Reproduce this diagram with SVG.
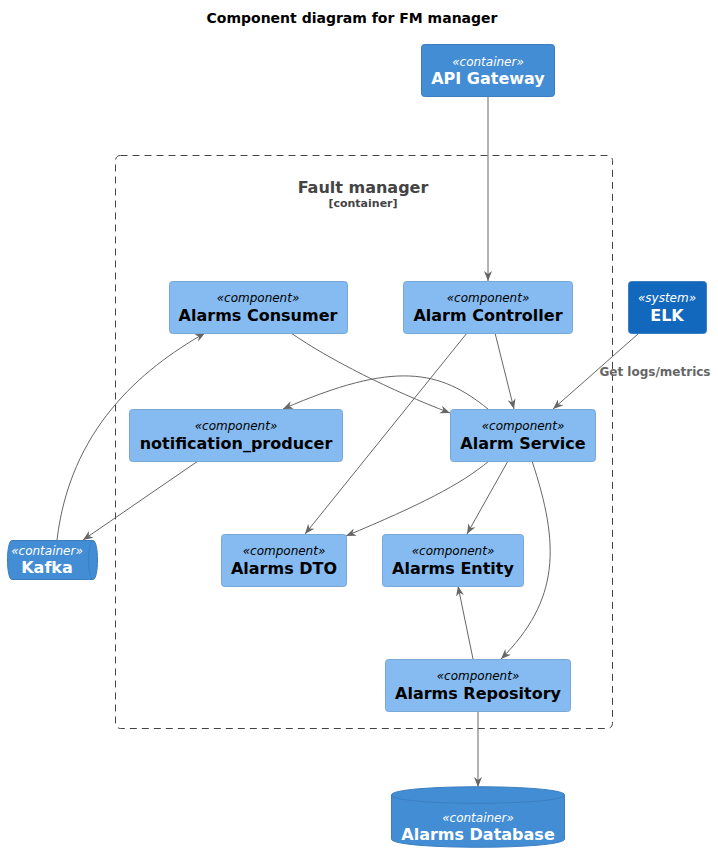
<svg xmlns="http://www.w3.org/2000/svg" width="718" height="863" viewBox="0 0 718 863">
<defs>
<marker id="ah" viewBox="0 0 10 10" refX="10" refY="5" markerWidth="10" markerHeight="10" markerUnits="userSpaceOnUse" orient="auto">
<path d="M0,1 L10,5 L0,9 L3,5 Z" fill="#666666"/>
</marker>
<style>
text{font-family:"DejaVu Sans","Liberation Sans",sans-serif;text-anchor:middle}
.st{font-size:12px;font-style:italic}
.nm{font-size:16px;font-weight:bold}
.w{fill:#FFFFFF}
.k{fill:#000000}
.comp{fill:#85BBF0;stroke:#78A8D8;stroke-width:1}
.cont{fill:#438DD5;stroke:#3C7FC0;stroke-width:1}
.sys{fill:#1168BD;stroke:#3C7FC0;stroke-width:1}
.e{fill:none;stroke:#666666;stroke-width:1;marker-end:url(#ah)}
</style>
</defs>
<rect width="718" height="863" fill="#FFFFFF"/>
<text x="352" y="23" style="font-size:14px;font-weight:bold" fill="#000">Component diagram for FM manager</text>

<g id="fault-manager">
<rect x="115.5" y="155.5" width="497" height="573" rx="5" fill="none" stroke="#444444" stroke-dasharray="7,5"/>
<text x="363" y="193" class="nm" fill="#444444">Fault manager</text>
<text x="363" y="207" style="font-size:11px;font-weight:bold" fill="#444444">[container]</text>
</g>

<g id="connectors">
<path class="e" d="M488,97 L488,281"/>
<path class="e" d="M495,333 L514,409"/>
<path class="e" d="M467,333 L305,534"/>
<path class="e" d="M291,333 C330,360 390,390 450,413"/>
<path class="e" d="M488,409 C440,370 395,360 283,409"/>
<path class="e" d="M638,334 L553,409"/>
<path class="e" d="M57,540 C70,430 140,370 205,333"/>
<path class="e" d="M198,461 L83,540"/>
<path class="e" d="M489,461 C460,485 420,505 346,536"/>
<path class="e" d="M508,461 L467,534"/>
<path class="e" d="M532,461 C560,545 560,600 501,659"/>
<path class="e" d="M473,659 L458,586"/>
<path class="e" d="M478,711 L478,787"/>
<text x="655" y="376" style="font-size:12px;font-weight:bold" fill="#666666">Get logs/metrics</text>
</g>

<g id="api-gateway">
<rect x="421.5" y="44.5" width="133" height="52" rx="3" class="cont"/>
<text x="488" y="66" class="st w">«container»</text>
<text x="488" y="84" class="nm w">API Gateway</text>
</g>

<g id="alarms-consumer">
<rect x="169.5" y="281.5" width="178" height="52" rx="3" class="comp"/>
<text x="258" y="302" class="st k">«component»</text>
<text x="258" y="321" class="nm k">Alarms Consumer</text>
</g>

<g id="alarm-controller">
<rect x="403.5" y="281.5" width="169" height="52" rx="3" class="comp"/>
<text x="488" y="302" class="st k">«component»</text>
<text x="488" y="321" class="nm k">Alarm Controller</text>
</g>

<g id="elk">
<rect x="628.5" y="281.5" width="78" height="52" rx="3" class="sys"/>
<text x="667" y="302" class="st w">«system»</text>
<text x="667" y="321" class="nm w">ELK</text>
</g>

<g id="notification-producer">
<rect x="129.5" y="409.5" width="213" height="52" rx="3" class="comp"/>
<text x="236" y="430" class="st k">«component»</text>
<text x="236" y="449" class="nm k">notification_producer</text>
</g>

<g id="alarm-service">
<rect x="450.5" y="409.5" width="145" height="52" rx="3" class="comp"/>
<text x="523" y="430" class="st k">«component»</text>
<text x="523" y="449" class="nm k">Alarm Service</text>
</g>

<g id="alarms-dto">
<rect x="221.5" y="534.5" width="125" height="52" rx="3" class="comp"/>
<text x="284" y="555" class="st k">«component»</text>
<text x="284" y="574" class="nm k">Alarms DTO</text>
</g>

<g id="alarms-entity">
<rect x="382.5" y="534.5" width="141" height="52" rx="3" class="comp"/>
<text x="453" y="555" class="st k">«component»</text>
<text x="453" y="574" class="nm k">Alarms Entity</text>
</g>

<g id="alarms-repository">
<rect x="385.5" y="659.5" width="185" height="52" rx="3" class="comp"/>
<text x="478" y="680" class="st k">«component»</text>
<text x="478" y="699" class="nm k">Alarms Repository</text>
</g>

<g id="kafka">
<path class="cont" d="M12,540.5 L93,540.5 C99,540.5 99,579.5 93,579.5 L12,579.5 C6,579.5 6,540.5 12,540.5 Z"/>
<path d="M93,540.5 C87,540.5 87,579.5 93,579.5" fill="none" stroke="#3C7FC0"/>
<text x="47" y="555" class="st w">«container»</text>
<text x="47" y="573" class="nm w">Kafka</text>
</g>

<g id="alarms-database">
<path class="cont" d="M391.5,795 C391.5,784 564.5,784 564.5,795 L564.5,839 C564.5,850 391.5,850 391.5,839 Z"/>
<path d="M391.5,795 C391.5,806 564.5,806 564.5,795" fill="none" stroke="#3C7FC0"/>
<text x="478" y="822" class="st w">«container»</text>
<text x="478" y="840" class="nm w">Alarms Database</text>
</g>
</svg>
